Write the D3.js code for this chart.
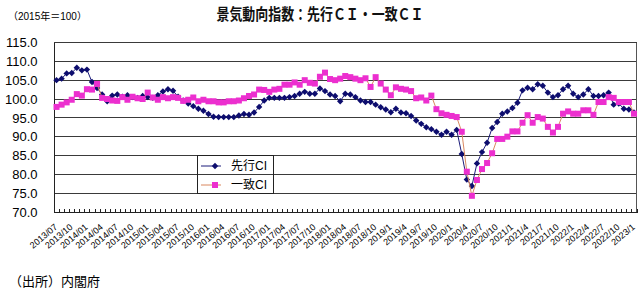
<!DOCTYPE html>
<html><head><meta charset="utf-8">
<script src="https://cdn.jsdelivr.net/npm/d3@7"></script>
<style>
html,body{margin:0;padding:0;background:#fff;}
svg{display:block;}
text{font-family:"Liberation Sans","Noto Sans CJK JP",Arial,sans-serif;}
</style></head>
<body>
<svg id="chart" width="640" height="292"></svg>
<script>
// ---- data ----
const startYear = 2013, startMonth = 7, monthCount = 115; // 2013/07 .. 2023/01
const tickLabels = ["2013/07","2013/10","2014/01","2014/04","2014/07","2014/10","2015/01","2015/04","2015/07","2015/10",
  "2016/01","2016/04","2016/07","2016/10","2017/01","2017/04","2017/07","2017/10","2018/01","2018/04","2018/07","2018/10",
  "2019/1","2019/4","2019/7","2019/10","2020/1","2020/4","2020/7","2020/10","2021/1","2021/4","2021/7","2021/10",
  "2022/1","2022/4","2022/7","2022/10","2023/1"];
const leadingCI = [105.0,105.4,106.8,106.9,108.3,107.6,107.8,104.5,102.9,101.2,
  99.4,100.9,101.2,100.6,101.0,100.5,100.3,100.8,100.5,100.3,
  101.0,102.0,102.6,102.2,100.6,99.6,98.8,98.1,97.4,96.9,
  96.0,95.3,95.2,95.2,95.2,95.2,95.6,96.0,95.8,96.4,
  97.9,99.6,100.3,100.3,100.3,100.3,100.5,100.8,101.4,101.9,
  101.4,101.4,102.8,102.1,101.2,100.8,99.4,101.4,101.2,100.5,
  99.6,99.2,99.2,98.5,97.8,97.2,96.5,97.4,96.4,96.2,
  95.5,94.3,93.4,92.5,92.0,91.3,90.5,91.3,90.5,91.8,
  85.4,78.6,76.9,82.9,85.9,88.4,92.3,93.9,96.1,96.7,
  97.6,99.0,102.3,103.0,102.6,103.9,103.5,101.7,100.5,101.0,
  102.6,103.5,101.4,100.5,101.2,102.6,100.8,100.8,101.0,101.7,
  98.5,98.8,97.4,97.2,96.4];
const coincidentCI = [97.9,98.5,99.1,99.8,101.3,100.9,102.6,102.5,104.0,100.3,
  100.0,99.6,99.5,100.5,99.8,100.6,100.2,100.0,101.7,100.4,
  99.8,100.5,100.2,100.5,100.3,99.5,99.8,100.4,99.4,99.8,
  99.4,99.4,99.1,99.1,99.4,99.4,99.6,100.2,100.8,101.2,
  102.5,102.4,101.9,102.5,102.7,103.8,103.8,104.4,103.8,105.0,
  104.3,104.1,105.9,107.0,105.3,105.0,105.4,106.1,105.8,105.4,
  105.0,105.5,103.2,105.8,104.1,102.5,101.0,103.1,102.7,102.5,
  102.1,100.2,100.4,99.6,100.9,97.3,96.2,95.8,95.5,95.2,
  91.3,80.7,74.3,78.5,81.4,83.0,85.6,89.4,89.4,90.0,
  91.4,91.4,93.7,95.7,93.7,95.2,94.8,92.6,91.1,92.6,
  96.1,96.7,96.1,96.1,97.0,97.0,95.8,99.2,99.2,100.5,
  100.3,99.2,99.2,99.2,96.1];
const yTicks = [70,75,80,85,90,95,100,105,110,115];
const seriesNames = ["先行CI","一致CI"];

// ---- build ----
const months = d3.range(monthCount).map(i => {
  const m = startMonth - 1 + i;
  return (startYear + Math.floor(m / 12)) + "-" + (m % 12 + 1);
});
const labelByIndex = {};
tickLabels.forEach((t, k) => { labelByIndex[months[k * 3]] = t; });

const L = 54, R = 636.5, T = 42.5, B = 212;
const svg = d3.select("#chart");
svg.append("rect").attr("width", 640).attr("height", 292).attr("fill", "#fff");

const x = d3.scaleBand().domain(months).range([L, R]).padding(0);
const y = d3.scaleLinear().domain([70, 115]).range([B, T]);
const cx = d => x(d) + x.bandwidth() / 2;

// gridlines
svg.append("g").selectAll("line").data(yTicks).join("line")
  .attr("x1", L).attr("x2", R).attr("y1", d => y(d)).attr("y2", d => y(d))
  .attr("stroke", "#3a3a3a").attr("stroke-width", 1).attr("shape-rendering", "crispEdges");
// right border
svg.append("line").attr("x1", R).attr("x2", R).attr("y1", T).attr("y2", B)
  .attr("stroke", "#555").attr("shape-rendering", "crispEdges");

// y axis
const yAxis = svg.append("g").attr("transform", `translate(${L},0)`)
  .call(d3.axisLeft(y).tickValues(yTicks).tickFormat(d3.format(".1f")).tickSize(0).tickPadding(16.5));
yAxis.select(".domain").attr("stroke", "#222").attr("shape-rendering", "crispEdges");
yAxis.selectAll("text").attr("font-size", 13).attr("fill", "#000");

// x axis: tick marks at category boundaries
const xTickScale = d3.scalePoint().domain(months.concat(["end"])).range([L, R]);
const xTicks = svg.append("g").attr("transform", `translate(0,${B})`)
  .call(d3.axisBottom(xTickScale).tickSize(-3).tickFormat(""));
xTicks.select(".domain").attr("stroke", "#222").attr("shape-rendering", "crispEdges");
xTicks.selectAll(".tick line").attr("stroke", "#222").attr("shape-rendering", "crispEdges");

// x labels
const xAxis = svg.append("g").attr("transform", `translate(0,${B})`)
  .call(d3.axisBottom(x).tickValues(months.filter(m => labelByIndex[m])).tickFormat(m => labelByIndex[m]).tickSize(0).tickPadding(0));
xAxis.select(".domain").remove();
xAxis.selectAll("text")
  .attr("font-size", 9).attr("fill", "#000")
  .attr("text-anchor", "end").attr("dy", 0).attr("y", 0)
  .attr("transform", "translate(1.5,16) rotate(-40)");

// lines
const line = vals => d3.line().x((d, i) => cx(months[i])).y(d => y(d))(vals);
svg.append("path").attr("d", line(leadingCI)).attr("fill", "none").attr("stroke", "#1c1c7a").attr("stroke-width", 1);
svg.append("g").selectAll("path").data(leadingCI).join("path")
  .attr("d", "M0,-3.2L3.2,0L0,3.2L-3.2,0Z")
  .attr("transform", (d, i) => `translate(${cx(months[i])},${y(d)})`)
  .attr("fill", "#0d0d6e");

svg.append("path").attr("d", line(coincidentCI)).attr("fill", "none").attr("stroke", "#d9875f").attr("stroke-width", 1);
svg.append("g").selectAll("rect").data(coincidentCI).join("rect")
  .attr("x", (d, i) => cx(months[i]) - 3).attr("y", d => y(d) - 3)
  .attr("width", 6).attr("height", 6).attr("fill", "#ec2fcf");

// legend
const lg = svg.append("g");
lg.append("rect").attr("x", 197.5).attr("y", y(85)).attr("width", 76).attr("height", y(75) - y(85))
  .attr("fill", "none").attr("stroke", "#222").attr("shape-rendering", "crispEdges");
const ly = [166, 185];
lg.append("line").attr("x1", 201).attr("x2", 221).attr("y1", ly[0]).attr("y2", ly[0]).attr("stroke", "#1c1c7a");
lg.append("path").attr("d", "M0,-3.2L3.2,0L0,3.2L-3.2,0Z").attr("transform", `translate(215,${ly[0]})`).attr("fill", "#0d0d6e");
lg.append("line").attr("x1", 201).attr("x2", 221).attr("y1", ly[1]).attr("y2", ly[1]).attr("stroke", "#d9875f");
lg.append("rect").attr("x", 212).attr("y", ly[1] - 3).attr("width", 6).attr("height", 6).attr("fill", "#ec2fcf");
lg.selectAll("text").data(seriesNames).join("text")
  .attr("x", 231).attr("y", (d, i) => ly[i]).attr("dy", "0.35em")
  .attr("font-size", 12).attr("fill", "#000").text(d => d);

// titles
svg.append("text").attr("x", 320).attr("y", 14).attr("dy", "0.35em").attr("text-anchor", "middle")
  .attr("font-size", 16).attr("font-weight", "bold").attr("fill", "#111")
  .attr("textLength", 207).attr("lengthAdjust", "spacingAndGlyphs")
  .text("景気動向指数：先行ＣＩ・一致ＣＩ");
svg.append("text").attr("x", 8).attr("y", 16).attr("dy", "0.35em")
  .attr("font-size", 10).attr("fill", "#000").text("（2015年＝100）");
svg.append("text").attr("x", 9).attr("y", 281).attr("dy", "0.35em")
  .attr("font-size", 13).attr("fill", "#000").text("（出所）内閣府");
</script>
</body></html>
